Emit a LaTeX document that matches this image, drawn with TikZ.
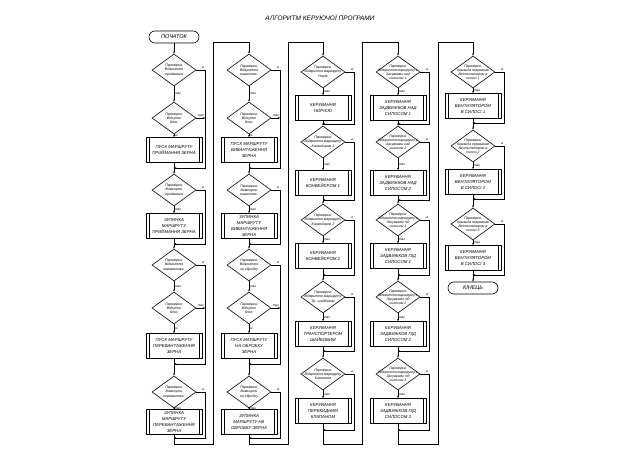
\documentclass[tikz,border=0pt]{standalone}
\usepackage{fontspec}
\setmainfont{Liberation Sans}
\usetikzlibrary{shapes.geometric,arrows.meta}
\tikzset{
 base/.style={line width=0.6pt},
 dec/.style={base,draw,diamond,minimum width=44pt,minimum height=32pt,inner sep=0pt},
 dtx/.style={font=\itshape\fontsize{3.5}{4.1}\selectfont,align=center,inner sep=0pt},
 proc/.style={base,draw,rectangle,minimum width=56pt,minimum height=25pt,inner sep=0pt,
   font=\itshape\fontsize{4.3}{5.8}\selectfont,align=center,
   path picture={\draw[line width=0.5pt] ([xshift=3pt]path picture bounding box.north west) -- ([xshift=3pt]path picture bounding box.south west);
                 \draw[line width=0.5pt] ([xshift=-3pt]path picture bounding box.north east) -- ([xshift=-3pt]path picture bounding box.south east);}},
 term/.style={base,draw,rounded corners=6pt,minimum width=50pt,minimum height=12pt,inner sep=0pt,font=\itshape\fontsize{5.5}{6.5}\selectfont},
 ar/.style={base,-{Stealth[length=2.4pt,width=1.8pt]}},
 ln/.style={base},
 lab/.style={font=\itshape\fontsize{3.2}{3.7}\selectfont,inner sep=0.8pt},
}
\newcommand\hblk[8]{%
 \node[dec,label={[dtx]center:{#7}}] (#1p) at (#2,#3) {};
 \node[dec,label={[dtx]center:{Перевірка:\\Відсутні\\блок.}}] (#1q) at (#2,#4) {};
 \node[proc] (#1b) at (#2,#5) {#8};
 \coordinate (#1m) at (#2,#6);
 \draw[ar] (#1p) -- node[lab,right]{так} (#1q);
 \draw[ar] (#1q) -- node[lab,right]{ні} (#1b);
 \draw[ln] (#1b) -- (#1m);
 \draw[ar] (#1p.east) -- node[lab,above,pos=.75]{ні} ++(9,0) |- (#1m);
 \draw[ar] (#1q.east) -- node[lab,above,pos=.5]{так} ++(9,0);
}
\newcommand\cblk[7]{%
 \node[dec,label={[dtx]center:{#6}}] (#1d) at (#2,#3) {};
 \node[proc] (#1b) at (#2,#4) {#7};
 \coordinate (#1m) at (#2,#5);
 \draw[ar] (#1d) -- node[lab,right]{так} (#1b);
 \draw[ln] (#1b) -- (#1m);
 \draw[ar] (#1d.east) -- node[lab,above,pos=.75]{ні} ++(9,0) |- (#1m);
}
\begin{document}
\begin{tikzpicture}[x=1pt,y=-1pt]
\fill[white] (0,0) rectangle (640,453);
\useasboundingbox (0,0) rectangle (640,453);
\node[font=\itshape\fontsize{6.5}{7.5}\selectfont] (title) at (320,18) {АЛГОРИТМ КЕРУЮЧОЇ ПРОГРАМИ};
% column 1
\node[term] (start) at (174,37) {ПОЧАТОК};
\hblk{a}{174}{70}{118}{150}{168}{Перевірка:\\Відкриття\\приймання}{ПУСК МАРШРУТУ\\ПРИЙМАННЯ ЗЕРНА}
\cblk{b}{174}{190}{226}{244}{Перевірка:\\Вимкнути\\приймання}{ЗУПИНКА\\МАРШРУТУ\\ПРИЙМАННЯ ЗЕРНА}
\hblk{c}{174}{265}{308}{346}{364}{Перевірка:\\Відкриття\\перевантаж.}{ПУСК МАРШРУТУ\\ПЕРЕВАНТАЖЕННЯ\\ЗЕРНА}
\cblk{d}{174}{392}{422}{438}{Перевірка:\\Вимкнути\\перевантаж.}{ЗУПИНКА\\МАРШРУТУ\\ПЕРЕВАНТАЖЕННЯ\\ЗЕРНА}
\draw[ar] (start) -- (ap);
\draw[ar] (am) -- (bd);
\draw[ar] (bm) -- (cp);
\draw[ar] (cm) -- (dd);
% column 2
\hblk{e}{249}{70}{118}{150}{168}{Перевірка:\\Відкриття\\вивантаж.}{ПУСК МАРШРУТУ\\ВИВАНТАЖЕННЯ\\ЗЕРНА}
\cblk{f}{249}{190}{226}{244}{Перевірка:\\Вимкнути\\вивантаж.}{ЗУПИНКА\\МАРШРУТУ\\ВИВАНТАЖЕННЯ\\ЗЕРНА}
\hblk{g}{249}{265}{308}{346}{364}{Перевірка:\\Відкриття\\на обробку}{ПУСК МАРШРУТУ\\НА ОБРОБКУ\\ЗЕРНА}
\cblk{h}{249}{392}{422}{438}{Перевірка:\\Вимкнути\\на обробку}{ЗУПИНКА\\МАРШРУТУ НА\\ОБРОБКУ ЗЕРНА}
\draw[ar] (em) -- (fd);
\draw[ar] (fm) -- (gp);
\draw[ar] (gm) -- (hd);
\coordinate (j1a) at (174,444); \coordinate (j1b) at (213,444);
\coordinate (j1c) at (213,42); \coordinate (j1d) at (249,42);
\draw[ar] (dm) -- (j1a) -- (j1b) -- (j1c) -- (j1d) -- (ep);
% column 3
\cblk{i}{323}{72}{108}{124}{Перевірка:\\Відкриття маршруту\\Норія}{КЕРУВАННЯ\\НОРІЄЮ}
\cblk{k}{323}{142}{183}{200}{Перевірка:\\Відкриття маршруту\\Конвейєром 1}{КЕРУВАННЯ\\КОНВЕЙЄРОМ 1}
\cblk{l}{323}{220}{256}{275}{Перевірка:\\Відкриття маршруту\\Конвейєром 2}{КЕРУВАННЯ\\КОНВЕЙЄРОМ 2}
\cblk{n}{323}{297}{334}{351}{Перевірка:\\Відкриття маршруту\\Тр. шайбовим}{КЕРУВАННЯ\\ТРАНСПОРТЕРОМ\\ШАЙБОВИМ}
\cblk{o}{323}{374}{411}{430}{Перевірка:\\Відкриття маршруту\\Клапаном}{КЕРУВАННЯ\\ПЕРЕКИДНИМ\\КЛАПАНОМ}
\draw[ar] (im) -- (kd);
\draw[ar] (km) -- (ld);
\draw[ar] (lm) -- (nd);
\draw[ar] (nm) -- (od);
\coordinate (j2a) at (249,444); \coordinate (j2b) at (288,444);
\coordinate (j2c) at (288,42); \coordinate (j2d) at (323,42);
\draw[ar] (hm) -- (j2a) -- (j2b) -- (j2c) -- (j2d) -- (id);
% column 4
\cblk{q}{398}{72}{108}{124}{Перевірка:\\Відкриття маршруту з\\Засувками над\\силосом 1}{КЕРУВАННЯ\\ЗАДВИЖКОВ НАД\\СИЛОСОМ 1}
\cblk{r}{398}{142}{183}{200}{Перевірка:\\Відкриття маршруту з\\Засувками над\\силосом 2}{КЕРУВАННЯ\\ЗАДВИЖКОВ НАД\\СИЛОСОМ 2}
\cblk{s}{398}{220}{256}{275}{Перевірка:\\Відкриття маршруту з\\Засувками під\\силосом 1}{КЕРУВАННЯ\\ЗАДВИЖКОВ ПІД\\СИЛОСОМ 1}
\cblk{t}{398}{297}{334}{351}{Перевірка:\\Відкриття маршруту з\\Засувками під\\силосом 2}{КЕРУВАННЯ\\ЗАДВИЖКОВ ПІД\\СИЛОСОМ 2}
\cblk{u}{398}{374}{411}{430}{Перевірка:\\Відкриття маршруту з\\Засувками під\\силосом 3}{КЕРУВАННЯ\\ЗАДВИЖКОВ ПІД\\СИЛОСОМ 3}
\draw[ar] (qm) -- (rd);
\draw[ar] (rm) -- (sd);
\draw[ar] (sm) -- (td);
\draw[ar] (tm) -- (ud);
\coordinate (j3a) at (323,444); \coordinate (j3b) at (362,444);
\coordinate (j3c) at (362,42); \coordinate (j3d) at (398,42);
\draw[ar] (om) -- (j3a) -- (j3b) -- (j3c) -- (j3d) -- (qd);
% column 5
\cblk{v}{473}{72}{106}{123}{Перевірка:\\Команда керування\\Вентилятором в\\силосі 1}{КЕРУВАННЯ\\ВЕНТИЛЯТОРОМ\\В СИЛОСІ 1}
\cblk{w}{473}{146}{182}{199}{Перевірка:\\Команда керування\\Вентилятором в\\силосі 2}{КЕРУВАННЯ\\ВЕНТИЛЯТОРОМ\\В СИЛОСІ 2}
\cblk{y}{473}{224}{258}{275}{Перевірка:\\Команда керування\\Вентилятором в\\силосі 3}{КЕРУВАННЯ\\ВЕНТИЛЯТОРОМ\\В СИЛОСІ 3}
\node[term] (fin) at (473,288) {КІНЕЦЬ};
\draw[ar] (vm) -- (wd);
\draw[ar] (wm) -- (yd);
\draw[ar] (ym) -- (fin);
\coordinate (j4a) at (398,444); \coordinate (j4b) at (438,444);
\coordinate (j4c) at (438,42); \coordinate (j4d) at (473,42);
\draw[ar] (um) -- (j4a) -- (j4b) -- (j4c) -- (j4d) -- (vd);
\end{tikzpicture}
\end{document}
